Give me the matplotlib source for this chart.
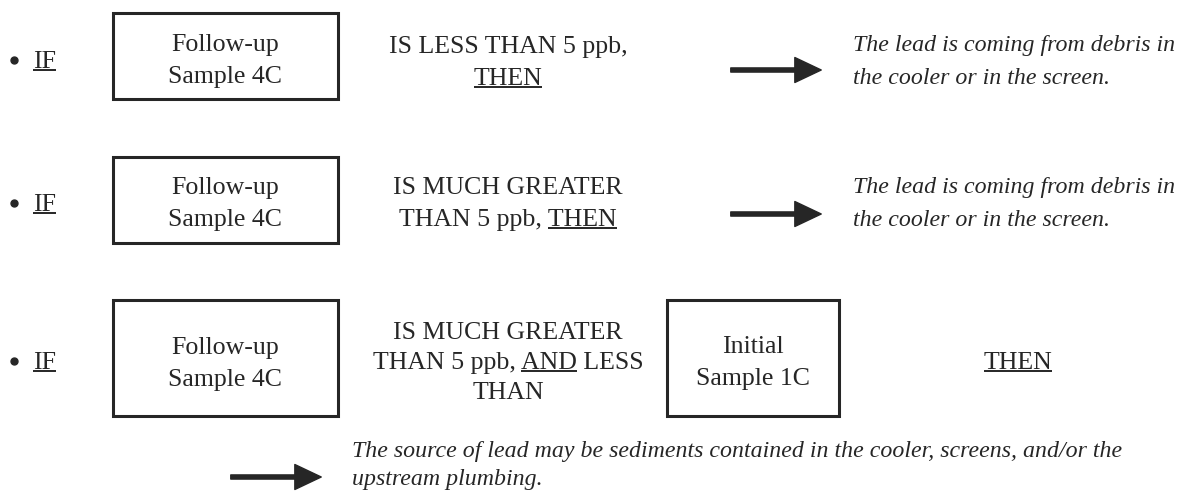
import matplotlib.pyplot as plt
from matplotlib.patches import Rectangle, FancyArrowPatch

# text content of the diagram
sample_followup = ["Follow-up", "Sample 4C"]
sample_initial = ["Initial", "Sample 1C"]
cond_less = ["IS LESS THAN 5 ppb,", "THEN"]
cond_greater = ["IS MUCH GREATER", "THAN 5 ppb, THEN"]
cond_between = ["IS MUCH GREATER", "THAN 5 ppb, AND LESS", "THAN"]
result_debris = ["The lead is coming from debris in", "the cooler or in the screen."]
result_sediment = ["The source of lead may be sediments contained in the cooler, screens, and/or the",
                   "upstream plumbing."]

ink = "#262626"
serif = "Liberation Serif"
fs = 18.6
fs_it = 17.2

fig = plt.figure(figsize=(11.81, 4.95), dpi=100)
ax = fig.add_axes([0, 0, 1, 1])
ax.set_xlim(0, 1181)
ax.set_ylim(495, 0)
ax.axis("off")
renderer = fig.canvas.get_renderer()


def text(x, y, s, ha="center", style="normal", size=fs):
    return ax.text(x, y, s, ha=ha, va="center", fontsize=size, family=serif,
                   style=style, color=ink)


def width_px(s, size=fs):
    t = ax.text(0, 0, s, fontsize=size, family=serif)
    w = t.get_window_extent(renderer).width
    t.remove()
    return w


def underline(t, word):
    # underline the last occurrence of word inside text t
    s = t.get_text()
    end = s.rfind(word) + len(word)
    bb = t.get_window_extent(renderer)
    x1 = bb.x0 + width_px(s[:end])
    x0 = x1 - width_px(word)
    inv = ax.transData.inverted()
    (dx0, dy), (dx1, _) = inv.transform([(x0, bb.y0 + 3), (x1, bb.y0 + 3)])
    ax.plot([dx0, dx1], [dy, dy], color=ink, lw=1.4, solid_capstyle="butt")


def box(x0, y0, x1, y1, lines, ys):
    ax.add_patch(Rectangle((x0, y0), x1 - x0, y1 - y0, fill=False,
                           ec=ink, lw=2.2))
    for s, y in zip(lines, ys):
        text((x0 + x1) / 2, y, s)


def arrow(x0, x1, y):
    ax.add_patch(FancyArrowPatch((x0, y), (x1, y), mutation_scale=20, color=ink,
                                 arrowstyle="simple,head_length=0.95,head_width=0.9,tail_width=0.15"))


def bullet_if(y):
    ax.plot([14], [y - 2], "o", ms=5, color=ink)
    t = text(33, y, "IF", ha="left")
    underline(t, "IF")


# row 1
bullet_if(62)
box(113, 13, 338, 99, sample_followup, [45, 77])
text(508, 47, cond_less[0])
underline(text(508, 79, cond_less[1]), "THEN")
arrow(728, 824, 70)
for s, y in zip(result_debris, [45, 78]):
    text(853, y, s, ha="left", style="italic", size=fs_it)

# row 2
bullet_if(205)
box(113, 157, 338, 243, sample_followup, [188, 220])
text(508, 188, cond_greater[0])
underline(text(508, 220, cond_greater[1]), "THEN")
arrow(728, 824, 214)
for s, y in zip(result_debris, [188, 220]):
    text(853, y, s, ha="left", style="italic", size=fs_it)

# row 3
bullet_if(363)
box(113, 300, 338, 416, sample_followup, [348, 380])
text(508, 333, cond_between[0])
underline(text(508, 363, cond_between[1]), "AND")
text(508, 393, cond_between[2])
box(667, 300, 839, 416, sample_initial, [347, 379])
underline(text(1018, 363, "THEN"), "THEN")
arrow(228, 324, 477)
for s, y in zip(result_sediment, [452, 479]):
    text(352, y, s, ha="left", style="italic", size=fs_it)

fig.savefig("out.png", dpi=100, facecolor="white")
